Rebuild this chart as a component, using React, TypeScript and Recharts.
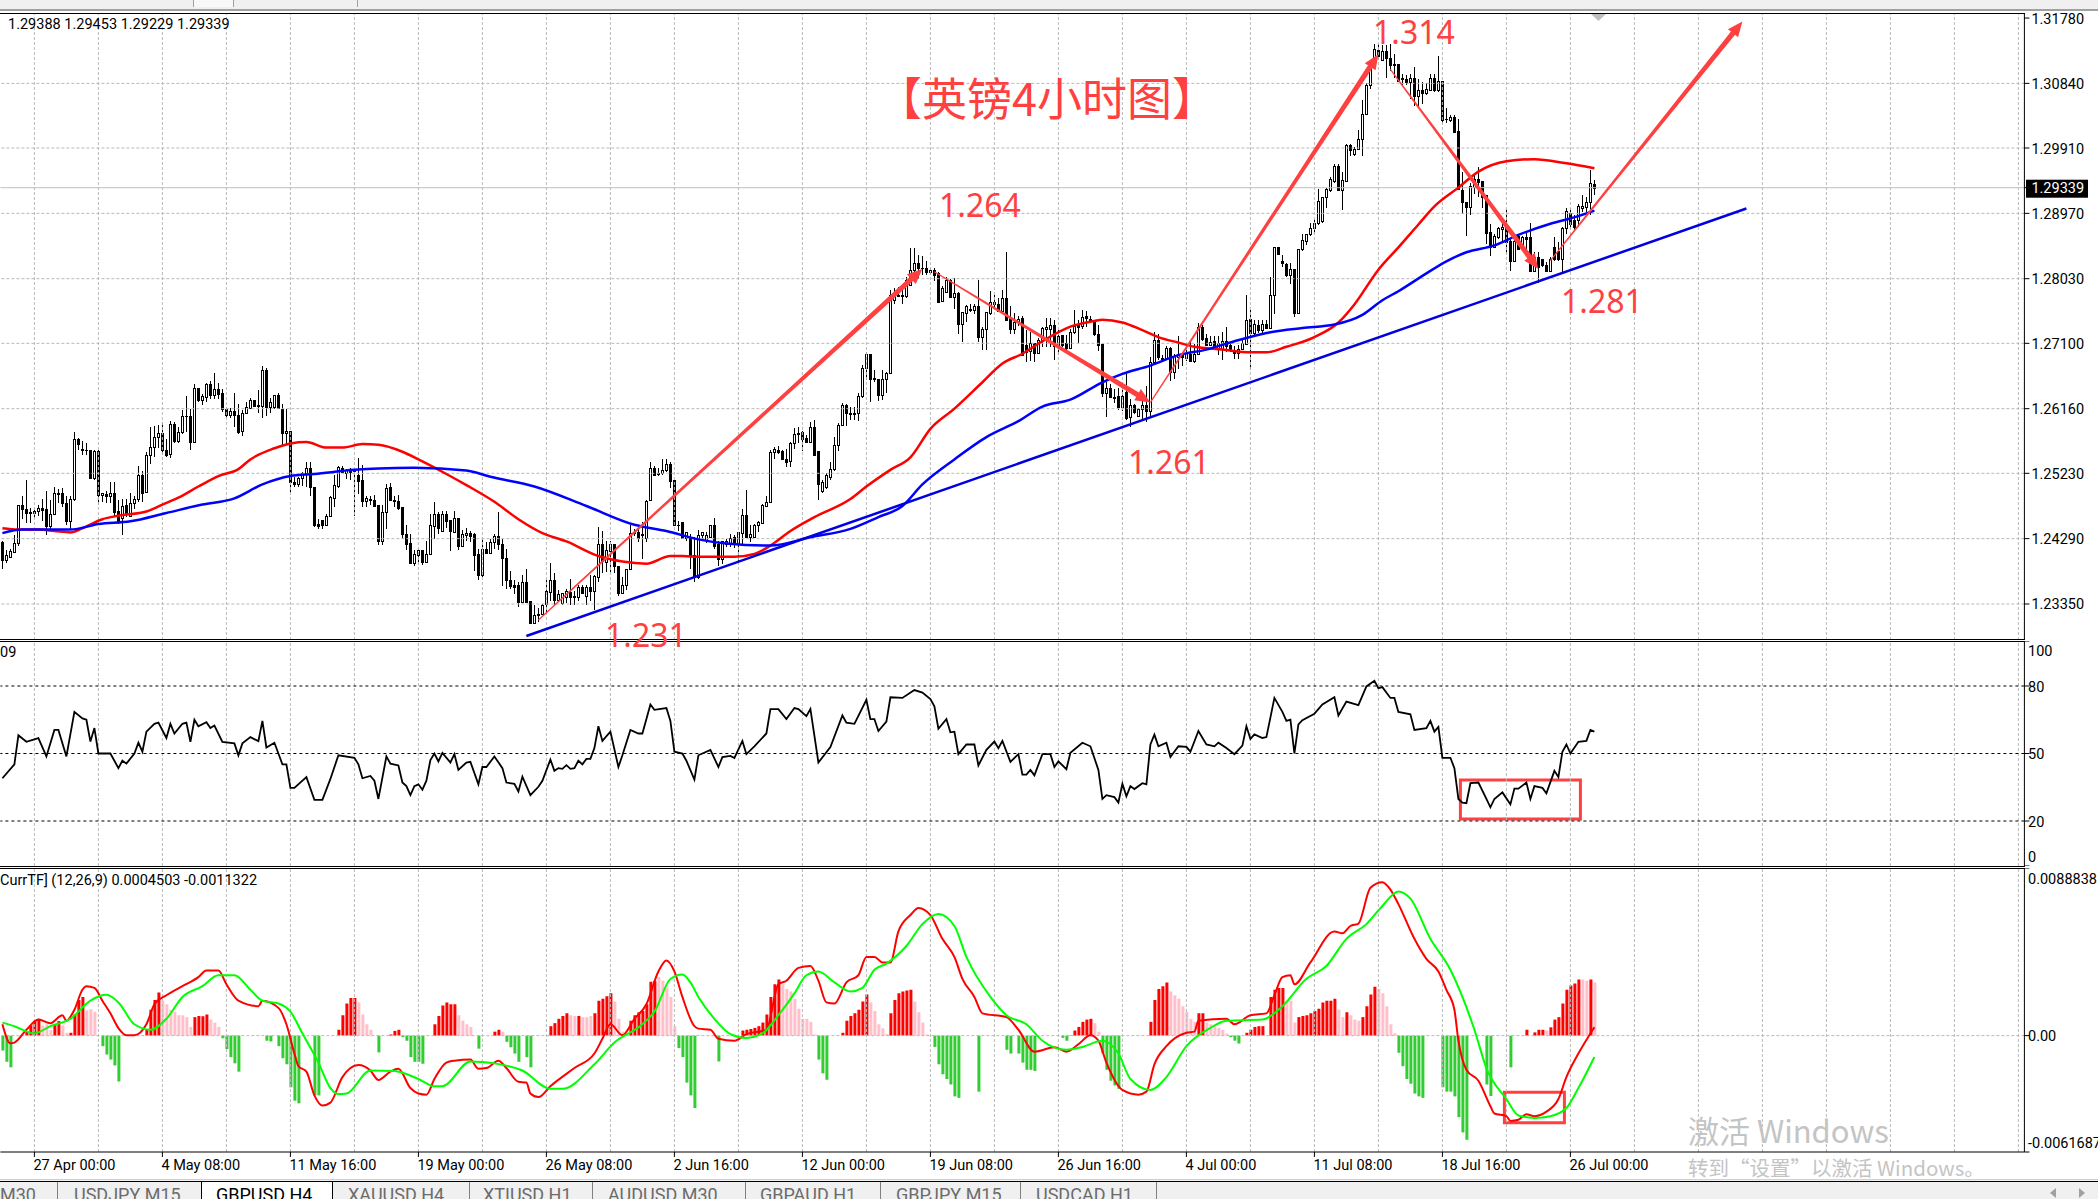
import React from 'react';
import { ComposedChart, Bar, Line, XAxis, YAxis, ReferenceLine, ReferenceArea, Cell } from 'recharts';

type Ohlc = [number, number, number, number];
// candles: [open, close, high, low] in 1/10000 price units, oldest bar first
const candlesApr: Ohlc[] = [
[12424,12398,12426,12386],[12398,12405,12413,12394],[12403,12411,12414,12401],[12410,12423,12434,12410],[12423,12478,12478,12419],[12478,12471,12490,12457],[12472,12466,12514,12452],[12468,12466,12473,12451],[12466,12469,12473,12458],[12469,12473,12477,12461],
[12473,12470,12486,12454],[12471,12447,12498,12434],[12447,12465,12484,12441],[12465,12495,12503,12463],[12495,12493,12500,12480],[12495,12480,12502,12475],[12481,12454,12491,12448],[12454,12486,12491,12443],[12486,12573,12583,12483],[12573,12565,12574,12557],
[12558,12556,12570,12549],[12557,12556,12567,12550],[12557,12516,12557,12516],[12516,12555,12557,12513],[12555,12492,12557,12478],[12492,12495,12495,12482],[12493,12491,12497,12481],[12490,12495,12511,12481],[12495,12468,12511,12461],[12469,12455,12484,12450],
[12458,12476,12486,12434],[12477,12464,12486,12460],[12462,12481,12494,12461],[12480,12486,12490,12472],[12486,12520,12533,12482],[12520,12495,12526,12482],[12496,12550,12554,12495],[12550,12561,12590,12536],[12561,12575,12591,12546],[12575,12581,12592,12560],
];
const candlesMay1: Ohlc[] = [
[12581,12556,12597,12549],[12557,12550,12573,12547],[12551,12594,12598,12545],[12594,12570,12597,12567],[12569,12583,12589,12567],[12582,12606,12614,12580],[12605,12606,12634,12582],[12606,12568,12616,12557],[12568,12646,12651,12567],[12646,12629,12646,12626],
[12629,12634,12637,12622],[12633,12651,12653,12626],[12651,12635,12656,12630],[12635,12645,12668,12630],[12645,12637,12653,12630],[12638,12616,12645,12611],[12615,12607,12619,12603],[12607,12612,12617,12603],[12612,12607,12638,12589],[12607,12583,12623,12580],
[12584,12610,12614,12577],[12610,12618,12626,12609],[12617,12628,12631,12616],[12628,12620,12628,12619],[12621,12620,12643,12610],[12620,12672,12678,12602],[12672,12618,12674,12605],[12618,12625,12632,12610],[12618,12636,12636,12616],[12636,12617,12639,12616],
[12616,12581,12623,12564],[12581,12584,12616,12564],[12584,12510,12584,12494],[12511,12507,12517,12503],[12507,12516,12517,12503],[12516,12523,12525,12505],[12523,12531,12540,12504],[12531,12503,12540,12490],[12504,12449,12504,12446],[12450,12447,12457,12443],
];
const candlesMay2: Ohlc[] = [
[12456,12448,12456,12443],[12448,12462,12465,12448],[12461,12489,12490,12460],[12488,12506,12520,12474],[12505,12532,12533,12502],[12531,12525,12534,12523],[12524,12528,12529,12515],[12528,12525,12531,12513],[12528,12527,12529,12462],[12521,12512,12545,12493],
[12513,12483,12535,12475],[12483,12488,12490,12475],[12486,12485,12490,12477],[12485,12476,12492,12476],[12477,12425,12477,12420],[12425,12467,12477,12420],[12467,12502,12507,12443],[12504,12484,12509,12483],[12485,12483,12490,12475],[12483,12473,12492,12470],
[12474,12436,12475,12429],[12436,12422,12448,12412],[12423,12394,12436,12392],[12394,12407,12412,12389],[12406,12412,12415,12393],[12412,12395,12413,12391],[12395,12407,12426,12394],[12407,12448,12465,12406],[12447,12465,12482,12429],[12465,12444,12467,12436],
[12440,12465,12469,12440],[12465,12455,12469,12444],[12456,12440,12456,12411],[12439,12459,12469,12438],[12459,12418,12459,12412],[12418,12436,12442,12418],[12434,12437,12444,12426],[12437,12433,12440,12424],[12435,12406,12437,12383],[12407,12377,12414,12370],
];
const candlesMay3: Ohlc[] = [
[12377,12414,12429,12374],[12414,12409,12424,12408],[12409,12424,12429,12408],[12424,12433,12436,12414],[12433,12421,12468,12413],[12421,12401,12429,12361],[12401,12369,12414,12356],[12370,12361,12383,12356],[12363,12360,12370,12349],[12363,12338,12366,12330],
[12338,12367,12376,12337],[12367,12338,12385,12337],[12340,12307,12340,12306],[12307,12319,12333,12306],[12321,12319,12329,12309],[12321,12334,12335,12320],[12335,12353,12369,12321],[12352,12370,12394,12340],[12370,12341,12380,12333],[12341,12350,12355,12339],
[12337,12351,12351,12334],[12345,12354,12357,12336],[12352,12345,12371,12334],[12346,12345,12354,12333],[12345,12359,12362,12340],[12359,12351,12362,12349],[12347,12360,12362,12334],[12360,12354,12376,12340],[12354,12375,12376,12326],[12374,12422,12446,12366],
[12422,12397,12440,12379],[12395,12412,12426,12381],[12411,12421,12425,12380],[12421,12390,12422,12380],[12390,12351,12390,12346],[12351,12363,12374,12350],[12363,12386,12386,12355],[12386,12437,12448,12386],[12437,12438,12443,12433],[12438,12430,12443,12424],
];
const candlesJun1: Ohlc[] = [
[12435,12434,12453,12400],[12430,12483,12485,12424],[12484,12531,12539,12483],[12531,12520,12534,12519],[12523,12522,12530,12519],[12523,12528,12543,12520],[12528,12536,12543,12525],[12536,12512,12539,12502],[12513,12448,12513,12447],[12449,12448,12454,12440],
[12453,12430,12453,12429],[12430,12438,12438,12425],[12431,12405,12436,12386],[12406,12374,12431,12366],[12374,12434,12441,12371],[12434,12438,12439,12426],[12427,12434,12438,12423],[12432,12449,12449,12431],[12449,12418,12459,12414],[12421,12400,12426,12389],
[12400,12426,12426,12393],[12422,12426,12429,12417],[12422,12430,12436,12417],[12431,12422,12434,12416],[12422,12438,12438,12394],[12437,12463,12472,12422],[12463,12431,12499,12430],[12432,12436,12448,12424],[12432,12449,12450,12431],[12448,12453,12455,12438],
[12451,12477,12479,12450],[12476,12482,12491,12474],[12482,12554,12557,12482],[12553,12558,12561,12544],[12557,12554,12562,12551],[12555,12543,12556,12542],[12544,12540,12558,12532],[12541,12567,12568,12532],[12567,12580,12588,12558],[12581,12579,12590,12566],
];
const candlesJun2: Ohlc[] = [
[12583,12573,12584,12555],[12574,12568,12578,12566],[12568,12590,12597,12566],[12590,12549,12599,12549],[12555,12508,12555,12485],[12497,12511,12513,12494],[12503,12520,12523,12501],[12517,12529,12540,12514],[12529,12564,12575,12526],[12564,12593,12596,12555],
[12592,12622,12624,12592],[12622,12610,12623,12591],[12610,12608,12619,12599],[12608,12610,12619,12600],[12610,12634,12638,12598],[12634,12674,12679,12631],[12674,12694,12698,12657],[12694,12659,12694,12626],[12660,12659,12671,12654],[12658,12635,12658,12627],
[12636,12659,12672,12628],[12659,12667,12669,12638],[12667,12779,12787,12667],[12773,12779,12789,12766],[12778,12780,12791,12776],[12780,12778,12789,12766],[12778,12801,12806,12775],[12794,12815,12847,12794],[12815,12826,12847,12801],[12826,12818,12837,12803],
[12819,12818,12836,12808],[12819,12812,12829,12808],[12812,12816,12818,12808],[12816,12808,12819,12799],[12811,12770,12813,12768],[12771,12789,12792,12771],[12784,12801,12806,12782],[12801,12777,12803,12775],[12777,12782,12804,12760],[12782,12738,12784,12724],
];
const candlesJun3: Ohlc[] = [
[12738,12755,12755,12712],[12754,12764,12765,12740],[12758,12760,12766,12755],[12758,12764,12766,12752],[12764,12719,12801,12712],[12719,12730,12734,12700],[12730,12755,12755,12700],[12754,12769,12785,12751],[12767,12769,12779,12760],[12767,12756,12775,12755],
[12756,12775,12787,12753],[12775,12744,12841,12743],[12747,12730,12763,12724],[12730,12741,12753,12724],[12741,12745,12750,12735],[12746,12693,12749,12692],[12707,12698,12729,12683],[12699,12710,12727,12685],[12710,12696,12710,12683],[12696,12715,12717,12695],
[12715,12732,12734,12705],[12731,12733,12747,12705],[12731,12736,12747,12705],[12736,12706,12744,12686],[12705,12721,12729,12693],[12722,12707,12722,12705],[12710,12703,12722,12700],[12704,12727,12731,12704],[12727,12735,12758,12724],[12736,12734,12743,12710],
[12735,12748,12758,12731],[12749,12747,12757,12733],[12745,12742,12750,12741],[12744,12723,12744,12721],[12724,12708,12737,12699],[12709,12638,12709,12633],[12638,12646,12654,12604],[12646,12633,12652,12632],[12633,12631,12645,12624],[12634,12618,12646,12614],
];
const candlesJul1: Ohlc[] = [
[12618,12634,12647,12613],[12640,12603,12666,12599],[12604,12622,12630,12590],[12622,12611,12623,12609],[12606,12616,12617,12605],[12616,12622,12628,12601],[12622,12612,12649,12597],[12612,12683,12690,12604],[12683,12715,12726,12682],[12715,12691,12723,12686],
[12689,12688,12693,12685],[12688,12704,12706,12686],[12704,12669,12705,12656],[12669,12692,12695,12659],[12691,12695,12721,12673],[12694,12691,12697,12678],[12689,12695,12706,12685],[12695,12684,12712,12683],[12684,12695,12709,12682],[12695,12733,12739,12694],
[12734,12716,12737,12713],[12717,12707,12723,12706],[12708,12712,12721,12706],[12713,12702,12721,12700],[12702,12711,12721,12693],[12702,12713,12726,12686],[12713,12706,12733,12697],[12707,12701,12709,12697],[12699,12696,12706,12688],[12696,12702,12707,12688],
[12702,12710,12717,12700],[12709,12744,12780,12708],[12745,12725,12758,12671],[12725,12738,12743,12721],[12736,12729,12743,12725],[12729,12738,12744,12724],[12738,12732,12744,12731],[12732,12779,12806,12731],[12779,12848,12848,12752],[12848,12838,12848,12837],
];
const candlesJul2: Ohlc[] = [
[12829,12825,12837,12820],[12824,12808,12825,12806],[12808,12817,12825,12796],[12817,12753,12817,12748],[12753,12845,12845,12752],[12845,12859,12867,12843],[12857,12868,12868,12852],[12868,12876,12883,12865],[12876,12883,12889,12867],[12883,12915,12932,12880],
[12886,12921,12921,12883],[12920,12932,12933,12904],[12930,12947,12950,12927],[12944,12965,12968,12941],[12965,12930,12968,12930],[12930,12945,12956,12902],[12944,12995,12997,12944],[12995,12988,12997,12979],[12982,12990,12992,12980],[12990,13004,13017,12989],
[13004,13040,13060,12980],[13040,13082,13084,13039],[13082,13113,13115,13076],[13113,13133,13140,13112],[13132,13124,13140,13117],[13118,13130,13139,13117],[13130,13120,13139,13092],[13120,13111,13140,13102],[13112,13111,13126,13092],[13112,13088,13112,13086],
[13092,13090,13098,13081],[13091,13086,13096,13081],[13086,13092,13098,13062],[13092,13066,13107,13051],[13066,13074,13091,13048],[13074,13070,13086,13055],[13070,13076,13084,13067],[13075,13092,13098,13074],[13092,13075,13098,13072],[13075,13088,13124,13072],
];
const candlesJul3: Ohlc[] = [
[13088,13032,13088,13026],[13033,13033,13048,13027],[13031,13035,13038,13028],[13036,13014,13038,13013],[13015,12932,13033,12930],[12931,12913,12956,12896],[12914,12906,12914,12865],[12906,12937,12940,12894],[12935,12947,12954,12925],[12946,12942,12964,12920],
[12943,12921,12944,12904],[12923,12869,12923,12853],[12870,12849,12882,12836],[12849,12865,12868,12847],[12863,12876,12877,12860],[12875,12878,12884,12856],[12878,12856,12903,12839],[12857,12828,12860,12814],[12828,12857,12860,12827],[12864,12846,12865,12845],
[12846,12863,12865,12844],[12863,12860,12870,12840],[12863,12814,12883,12812],[12814,12834,12841,12812],[12834,12820,12841,12797],[12831,12823,12831,12820],[12823,12814,12827,12812],[12814,12832,12834,12812],[12848,12832,12863,12829],[12843,12832,12856,12829],
[12832,12876,12878,12812],[12876,12901,12904,12868],[12898,12882,12904,12875],[12887,12878,12894,12872],[12887,12908,12911,12877],[12904,12908,12923,12899],[12906,12913,12920,12899],[12913,12940,12959,12894],[12938.8,12933.9,12945.3,12922.9],
];

type Pt = [number, number];
// moving averages: [bar index, price in 1/10000]
const redMA: Pt[] = [[0,12444],[4,12442],[9,12442],[13,12440],[17,12438],[20,12444],[25,12457],[29,12462],[36,12468],[40,12478],[44,12488],[49,12504],[54,12519],[59,12529],[62,12543],[68,12559],[72,12566],[76,12568],[81,12560],[85,12560],[90,12565],[94,12564],[100,12554],[104,12543],[111,12522],[116,12506],[123,12482],[129,12457],[135,12437],[141,12425],[149,12404],[155,12396],[161,12393],[167,12404],[170,12404],[174,12403],[183,12403],[188,12407],[192,12419],[197,12440],[203,12460],[212,12486],[216,12504],[222,12528],[227,12546],[232,12587],[238,12616],[245,12654],[250,12681],[255,12695],[260,12713],[267,12734],[273,12742],[275,12744],[280,12740],[285,12729],[289,12719],[294,12711],[298,12705],[305,12701],[312,12697],[316,12697],[321,12705],[328,12719],[334,12740],[338,12766],[344,12816],[349,12848],[354,12881],[358,12907],[364,12934],[369,12957],[376,12972],[383,12975],[391,12969],[398,12962]];
const blueMA: Pt[] = [[0,12437],[5,12442],[17,12442],[24,12450],[32,12454],[41,12466],[50,12478],[58,12487],[65,12507],[72,12519],[78,12522],[88,12528],[94,12530],[103,12531],[116,12527],[122,12518],[133,12504],[146,12476],[158,12449],[166,12440],[174,12428],[181,12422],[192,12419],[202,12431],[212,12443],[219,12460],[225,12476],[230,12507],[238,12543],[246,12575],[254,12598],[260,12619],[267,12629],[275,12654],[280,12666],[287,12678],[294,12693],[301,12701],[308,12713],[317,12726],[325,12732],[333,12737],[340,12751],[345,12772],[349,12785],[355,12807],[361,12828],[366,12841],[373,12851],[379,12866],[387,12882],[394,12893],[398,12901]];
// RSI vertices: [bar index, value]
const rsiA: Pt[] = [[0,39],[3,45.2],[4,58.1],[6,55.2],[9,56.8],[11,48.7],[13,60.5],[14,60.5],[16,48.7],[18,68.5],[20,65.6],[21,65],[22,55.3],[23,61.3],[24,50],[27,50],[29,43.5],[30,46.8],[31,45.5],[33,50],[34,54.8],[35,50.8],[36,59.7],[38,63.2],[39,63.7],[41,56.9],[42,63.2],[43,58.9],[45,63.2],[46,63.7],[47,55.2],[48,65],[49,62.1],[51,63.9],[52,61.3],[53,62.4],[55,55.2],[58,54.5],[59,49.2],[60,54.5],[62,57.3],[64,55.5],[65,64.5],[66,52.7],[68,54.8],[69,50],[70,45.2],[71,45.2],[72,34.7],[73,34.7],[76,39.5],[78,29.4],[80,29.4],[82,38.7],[84,49.2],[88,48.1],[89,45.2],[90,39],[92,40],[93,37.9],[94,29.8],[96,48.7],[97,45.5],[99,44.7],[100,37.1],[101,35.5],[102,31.5],[103,35.5],[104,36.3],[105,33.9],[106,37.9],[107,47.1],[108,50],[109,46.5],[110,50.3],[112,46],[113,49.7],[114,42.7],[116,46],[117,46.3],[119,36.3],[120,44],[121,44],[123,48.7],[125,43.5],[126,37.1],[128,36.5],[129,33.1],[130,39.7],[132,31.5],[134,35.2],[135,37.9],[137,47.3],[138,42.3],[139,43.5],[140,43.2],[141,44.8],[142,43.2],[143,43.5],[144,46.8],[145,45.2],[146,47.6],[147,47.6],[148,52.4],[149,62.1],[150,55.6],[152,59.7],[154,44],[155,49.2],[157,60.5],[159,58.9],[160,58.9],[162,71.8],[163,69.4],[166,70.2],[167,64.5],[168,50.8],[170,50],[171,46.8],[173,38.4],[174,49.2]];
const rsiB: Pt[] = [[177,51.6],[179,44],[180,48.4],[182,48.9],[183,48],[185,55.6],[186,49.7],[188,53.2],[191,58.9],[192,69.7],[194,69.7],[196,65.3],[198,70.2],[199,69.7],[201,66.6],[202,69.8],[204,46],[207,52.9],[210,66.9],[211,63.7],[213,63.2],[216,73.9],[217,65.3],[218,65.3],[219,60],[221,64.2],[222,75],[225,74.7],[228,78.2],[230,77.1],[232,74.2],[233,71],[234,61],[236,65.3],[237,59.4],[238,59.7],[239,49.7],[241,54],[243,54],[244,44.7],[246,51.6],[248,55.3],[249,52.4],[250,55.6],[252,46.3],[254,49.7],[255,40.6],[256,40.6],[257,42.7],[258,40.3],[260,49.7],[262,49.7],[263,44],[264,46.5],[266,43],[267,50.3],[270,54.8],[272,53.2],[274,42.7],[275,29.8],[276,31.5],[278,30.6],[279,28.2],[280,36.6],[281,31],[282,35.5],[283,34.2],[285,36.8],[286,36.3],[287,54],[288,58.4],[289,53.2],[291,54.8],[292,48.4],[294,53.2],[296,52.9],[297,50.8],[299,60],[301,54],[303,53.2],[304,54.8],[306,52.4],[308,49.7],[310,53.5],[311,62.1],[312,56.5],[313,58.5],[315,56.9],[316,57.3],[318,74.7],[320,68.5],[321,64.5],[322,65],[323,50],[324,62.9],[325,64.8],[328,67.7],[330,71.8],[333,75],[334,66.9],[336,73.1],[339,71.5],[341,79.8],[343,82.3],[344,79],[345,79.5],[347,74.7],[348,74.7]];
const rsiC: Pt[] = [[349,68.5],[352,67.4],[353,60.5],[356,61.3],[357,64.5],[358,59.7],[359,61.8],[360,48.1],[362,48.1],[363,43.5],[364,29.8],[365,28.2],[366,27.9],[367,36.8],[369,37.1],[371,29.8],[372,26.1],[373,29.8],[375,32.7],[377,27.4],[378,34.4],[379,34.4],[381,37.1],[382,29.8],[383,35.5],[385,34.7],[386,32.3],[388,42.3],[389,39.5],[390,50.8],[391,54],[392,50],[394,55.2],[396,55.6],[397,60.5],[398,59.7]];
// MACD and signal: [bar index, value in 1/10000]
const macdLine: Pt[] = [[0,6],[2,-4.1],[3,-3.7],[6,3.1],[9,8.5],[12,6.6],[15,10.8],[16,7.9],[18,13.7],[20,24.3],[21,26.2],[23,25.3],[25,18.5],[27,11.8],[29,4],[31,0.2],[33,0.2],[36,6],[38,16.6],[41,21.4],[45,26.2],[49,31],[51,34.5],[54,34.5],[56,27.2],[59,18.5],[64,15.6],[65,18.5],[69,14.7],[71,6],[73,-9.5],[74,-16.2],[76,-19.1],[78,-31.7],[80,-37.1],[82,-35.5],[85,-22],[89,-15.6],[92,-18.5],[94,-23.5],[97,-19.1],[99,-17.6],[102,-27.8],[104,-30.7],[106,-31.3],[108,-23],[111,-14.3],[113,-13.3],[117,-12.7],[119,-17.6],[121,-17.2],[124,-13.3],[126,-17.2],[129,-24.5],[131,-24.9],[132,-30.7],[134,-32.6],[137,-26.8],[143,-17.2],[148,-9.5],[150,-1.7],[152,6],[155,0.2],[158,8.9],[161,16.6],[164,34],[166,39.8],[168,34],[170,20.5],[173,5],[174,3.7],[177,3.1],[179,-1.7],[183,-2.7],[186,0.8],[191,3.1],[194,27.2],[196,29.1],[199,35.9],[202,36.9],[204,29.1],[206,17.6],[208,17],[211,28.2],[214,32],[216,41.7],[218,41.7],[220,38.8],[222,38.8],[224,55.2],[227,63.9],[229,67.7],[232,63.9],[235,51.3],[238,41.7],[240,30.1],[243,20.5],[245,11.8],[251,9.8],[254,3.1],[258,-8.5],[263,-6.2],[266,-8.5],[269,-4.6],[272,0.2],[274,-2.7],[276,-14.3],[280,-28.8],[284,-31.3],[286,-29.7],[288,-15.2],[291,-5.6],[296,1.5],[298,2.1],[299,7.9],[306,8.9],[308,6],[312,10.8],[316,11.8],[318,21.4],[320,31],[322,32],[323,27.2],[327,38.8],[333,55.2],[335,54.2],[337,58.1],[339,59.4],[342,78.4],[345,81.3],[347,77.4],[349,69.7],[353,51.3],[356,40.7],[359,34],[361,24.3],[363,13.7],[364,-2.7],[366,-18.1],[369,-23.9],[372,-37.4],[373,-41.3],[376,-42.7],[377,-45.2],[379,-44.6],[381,-41.7],[383,-42.7],[386,-40.3],[389,-33.6],[391,-22],[394,-9.5],[398,4.5]];
const signalLine: Pt[] = [[0,6.9],[3,5],[8,1.2],[12,5],[17,8.9],[22,18.5],[26,21.6],[29,17.6],[33,6],[37,3.1],[41,8.9],[45,20.5],[50,26.2],[54,32],[58,32],[62,24.3],[65,18.5],[69,17],[72,12.7],[75,1.2],[79,-14.3],[82,-27.8],[84,-31],[86,-30.7],[92,-18.5],[98,-18.7],[104,-23],[108,-26.8],[110,-26.8],[117,-13.7],[123,-14.7],[130,-18.5],[137,-28.2],[140,-28.2],[148,-15.2],[153,-3.7],[160,6],[163,12.7],[167,30],[170,32.4],[172,28.2],[174,20.5],[178,8.9],[182,0.8],[186,-1.2],[190,1.2],[194,10.8],[198,22.4],[201,32],[204,34],[208,28.2],[212,23.4],[215,25.3],[218,34.9],[221,38.2],[226,47.5],[230,59.1],[234,64.5],[238,58.1],[241,41.7],[247,20.5],[251,10.8],[256,6],[260,-2.7],[266,-7.5],[270,-6],[275,-2.7],[279,-9.5],[282,-23],[287,-28.8],[291,-22],[296,-5.6],[302,4.1],[306,7.9],[315,8.5],[320,15.6],[326,30.1],[331,36.9],[336,51.3],[341,59.1],[345,68.7],[349,76.4],[352,72.6],[357,51.3],[362,34.9],[365,20.5],[368,3.1],[371,-17.2],[376,-33.6],[379,-42.3],[383,-43.6],[387,-42.7],[391,-38.4],[394,-27.8],[398,-11.3]];
// histogram bars by colour: [bar index, value in 1/10000]
const histRed: Pt[] = [[6,2],[7,5.4],[8,7.9],[9,8.9],[13,6],[14,7.7],[17,1.5],[18,11.2],[19,18.9],[20,20.5],[36,3.1],[37,13.7],[38,18.9],[39,22.9],[48,9.8],[49,10.4],[50,10.2],[51,11.2],[84,3.1],[85,10.8],[86,17],[87,20],[88,20],[97,0.6],[98,2.5],[99,3.1],[108,6],[109,10.4],[110,16],[111,17.6],[112,16.6],[113,16.6],[123,2.1],[124,3.1],[137,5],[138,6.6],[139,8.9],[140,10.4],[141,11.8],[144,10.4],[148,11.8],[149,18.5],[150,19.5],[151,20.8],[152,22.4],[157,7.9],[158,10.8],[159,12.4],[160,13.1],[161,16.6],[162,28.6],[163,29.1],[185,2.7],[186,3.1],[187,3.5],[188,4.1],[189,5],[190,6.9],[191,11.2],[192,20.5],[193,27.2],[194,29.7],[210,1.5],[211,7.9],[212,10.4],[213,11.8],[214,13.7],[215,18.1],[216,21.8],[222,11.8],[223,18.9],[224,22.4],[225,23.4],[226,23.9],[227,24.3],[267,0.2],[268,2.7],[269,4.6],[270,7.3],[271,8.5],[272,8.9],[287,7.3],[288,18.9],[289,24.7],[290,26.2],[291,28.2],[299,11.8],[300,11.8],[311,1.5],[312,3.1],[313,4.6],[314,5],[315,5],[317,20.5],[318,24.3],[319,25.3],[320,25.3],[324,9.8],[325,10.4],[326,10.8],[327,11.8],[328,13.1],[329,14.3],[330,17.6],[331,18.5],[332,18.5],[333,19.5],[336,12.4],[340,9.8],[341,15.6],[342,21.8],[343,25.9],[381,3.1],[383,1.7],[384,3.1],[385,3.1],[387,4.4],[388,8.5],[389,9.8],[390,17],[391,24.3],[392,26.6],[393,27.6],[394,29.7],[397,29.7]];
const histPink: Pt[] = [[10,5.4],[11,6],[12,3],[15,5.4],[16,1.5],[21,13.5],[22,14],[23,12.7],[40,18.5],[41,16.6],[42,13.7],[43,12.7],[44,10.8],[45,10.8],[46,9.8],[47,4.6],[52,8.5],[53,6.9],[54,4.6],[89,17.6],[90,11.2],[91,6],[92,3.1],[114,10.8],[115,7.9],[116,6],[117,4.6],[125,2.1],[142,10.8],[143,10.4],[145,9.8],[146,9.8],[147,10.4],[153,18.1],[154,8.9],[155,2.1],[164,31],[165,29.1],[166,25.3],[167,20.5],[168,5],[195,27.2],[196,24.7],[197,23.4],[198,19.5],[199,14.3],[200,8.9],[201,8.9],[202,7.3],[203,0.6],[217,17.6],[218,13.1],[219,6],[220,3.9],[221,0.8],[228,18.1],[229,12.4],[230,6.9],[231,0.6],[273,6.6],[274,2.1],[292,23.4],[293,21.4],[294,19.5],[295,15.6],[296,12.7],[297,8.9],[298,7.3],[301,6.9],[302,6],[303,5],[304,4.1],[305,3.1],[306,1.2],[321,18.5],[322,18.5],[323,6.9],[334,13.7],[335,9.8],[337,10.8],[338,8.5],[339,7.9],[344,24.7],[345,22.4],[346,15.6],[347,6],[348,1.2],[386,2.7],[395,29.7],[396,29.1],[398,28.2]];
const histGreen: Pt[] = [[0,-7.9],[1,-13.9],[2,-16.8],[25,-5.6],[26,-10],[27,-12.7],[28,-15.8],[29,-24.3],[55,-1.4],[56,-7.1],[57,-11.4],[58,-14.7],[59,-19.1],[66,-2.7],[67,-3.1],[69,-5.6],[70,-12],[71,-15.2],[72,-27.4],[73,-34.5],[74,-35.9],[78,-31.7],[79,-31.7],[94,-8.9],[100,-0.8],[101,-2.7],[102,-11.4],[103,-13.9],[104,-13.9],[105,-14.9],[119,-6.9],[126,-3.3],[127,-6.2],[128,-9.5],[129,-13.9],[131,-11.4],[132,-16.8],[169,-6.6],[170,-11.4],[171,-24.9],[172,-31.7],[173,-38.4],[179,-13.7],[204,-12.7],[205,-20],[206,-23.4],[233,-6],[234,-15.2],[235,-20.5],[236,-23],[237,-25.9],[238,-32.2],[239,-33],[244,-29.7],[251,-7.5],[252,-9.5],[254,-9.5],[255,-14.3],[256,-18.1],[257,-18.1],[258,-18.7],[265,-1.2],[266,-2.7],[275,-9.5],[276,-18.1],[277,-23.9],[278,-26.4],[279,-28.2],[307,-0.8],[308,-2.7],[309,-4.2],[349,-9.1],[350,-16.2],[351,-23],[352,-25.5],[353,-30.7],[354,-32.2],[355,-33],[360,-27.4],[361,-29.7],[362,-29.7],[363,-32.2],[364,-43.2],[365,-51.3],[366,-55.2],[371,-25.9],[372,-32],[377,-16.8]];

const priceTicks = [1.3178, 1.3084, 1.2991, 1.2897, 1.2803, 1.271, 1.2616, 1.2523, 1.2429, 1.2335];
const lastPrice = 1.29339;
const rsiTicks = [100, 80, 50, 20, 0];
const macdTop = 0.0088838;
const macdBottom = -0.0061687;
const macdTicks = [macdTop, 0, macdBottom];
const timeLabels: [number, string][] = [[8,'27 Apr 00:00'],[40,'4 May 08:00'],[72,'11 May 16:00'],[104,'19 May 00:00'],[136,'26 May 08:00'],[168,'2 Jun 16:00'],[200,'12 Jun 00:00'],[232,'19 Jun 08:00'],[264,'26 Jun 16:00'],[296,'4 Jul 00:00'],[328,'11 Jul 08:00'],[360,'18 Jul 16:00'],[392,'26 Jul 00:00']];
const gridBars = [8,24,40,56,72,88,104,120,136,152,168,184,200,216,232,248,264,280,296,312,328,344,360,376,392,408,424,440,456,472,488,504];
// annotation lines: [start bar, start price, end bar, end price]
const supportLine = [131, 1.2289, 436, 1.2904];
const arrows: number[][] = [
  [134, 1.2312, 230, 1.2817],
  [233, 1.2813, 287, 1.2625],
  [287, 1.2625, 344, 1.3126],
  [347, 1.3104, 384, 1.2817],
  [387, 1.2829, 435, 1.3173],
];
const annotations: [string, number, number][] = [['1.231', 605, 635], ['1.264', 939, 205], ['1.261', 1128, 462], ['1.314', 1373, 32], ['1.281', 1561, 301]];
const title = '【英镑4小时图】';
const tabs: [string, number][] = [['M30', 0], ['USDJPY M15', 74], ['GBPUSD H4', 216], ['XAUUSD H4', 348], ['XTIUSD H1', 483], ['AUDUSD M30', 608], ['GBPAUD H1', 760], ['GBPJPY M15', 896], ['USDCAD H1', 1036]];
const tabSeparators = [57, 469, 592, 745, 880, 1020, 1156];

const TOTAL_BARS = 506;
const candles = [...candlesApr, ...candlesMay1, ...candlesMay2, ...candlesMay3, ...candlesJun1, ...candlesJun2, ...candlesJun3, ...candlesJul1, ...candlesJul2, ...candlesJul3];
const lookup = (pts: Pt[], scale: number) => new Map(pts.map(([k, v]) => [k, v * scale]));
const mapRed = lookup(redMA, 1e-4), mapBlue = lookup(blueMA, 1e-4);
const mapRsi = lookup([...rsiA, ...rsiB, ...rsiC], 1);
const mapMacd = lookup(macdLine, 1e-4), mapSignal = lookup(signalLine, 1e-4);
const mapHR = lookup(histRed, 1e-4), mapHP = lookup(histPink, 1e-4), mapHG = lookup(histGreen, 1e-4);

const rows = Array.from({ length: TOTAL_BARS }, (_, k) => {
  const c = candles[k];
  const hist = mapHR.get(k) ?? mapHP.get(k) ?? mapHG.get(k);
  return {
    k,
    range: c ? [c[3] / 1e4, c[2] / 1e4] : undefined,
    open: c ? c[0] / 1e4 : undefined,
    close: c ? c[1] / 1e4 : undefined,
    high: c ? c[2] / 1e4 : undefined,
    low: c ? c[3] / 1e4 : undefined,
    maRed: mapRed.get(k),
    maBlue: mapBlue.get(k),
    rsi: mapRsi.get(k),
    macd: mapMacd.get(k),
    signal: mapSignal.get(k),
    hist,
    histFill: mapHR.has(k) ? '#ff0000' : mapHP.has(k) ? '#ffc0cb' : '#32cd32',
  };
});

const FONT = 'Roboto, "Noto Sans", sans-serif';
const ANNOT = '#ff4040';
const GRID = '#b9b9b9';
const margin = { top: 0, right: 0, bottom: 0, left: 0.4 };
const AXIS_W = 73.6;
const SMALL = 14.5;

const Candle = (p: any) => {
  const { x, y, width, height, payload } = p;
  if (!payload || payload.high == null) return null;
  const span = payload.high - payload.low || 1e-9;
  const yOf = (v: number) => y + ((payload.high - v) / span) * height;
  const cx = Math.floor(x + width / 2) + 0.5;
  const bull = payload.close >= payload.open;
  const top = Math.round(yOf(Math.max(payload.open, payload.close))) + 0.5;
  const bottom = Math.round(yOf(Math.min(payload.open, payload.close))) + 0.5;
  return (
    <g>
      <line x1={cx} x2={cx} y1={Math.round(y)} y2={Math.round(y + height)} stroke="#000" strokeWidth={1} />
      <rect x={cx - 1} y={top} width={2} height={Math.max(bottom - top, 0.01)} fill={bull ? '#fff' : '#000'} stroke="#000" strokeWidth={1} />
    </g>
  );
};

const Arrow = (p: any) => {
  const { x1, y1, x2, y2 } = p;
  if (x1 == null) return null;
  const dx = x2 - x1, dy = y2 - y1;
  const len = Math.hypot(dx, dy) || 1;
  const ux = dx / len, uy = dy / len, nx = -uy, ny = ux;
  const hx = x2 - ux * 15, hy = y2 - uy * 15;
  const a = 0.6, b = 2.6, h = 6.5;
  const pts = [
    [x1 + nx * a, y1 + ny * a], [hx + nx * b, hy + ny * b], [hx + nx * h, hy + ny * h], [x2, y2],
    [hx - nx * h, hy - ny * h], [hx - nx * b, hy - ny * b], [x1 - nx * a, y1 - ny * a],
  ].map((q) => q.join(',')).join(' ');
  return <polygon points={pts} fill={ANNOT} />;
};

const PriceTick = (p: any) => {
  const { x, y, payload } = p;
  const v = payload.value as number;
  const isLast = v === lastPrice;
  return (
    <g>
      {isLast && <rect x={x - 5.4} y={y - 8} width={62} height={18} fill="#000" />}
      <text x={x} y={y + 1} dominantBaseline="central" fontFamily={FONT} fontSize={SMALL} fill={isLast ? '#fff' : '#000'}>{v.toFixed(5)}</text>
    </g>
  );
};

const RsiTick = (p: any) => {
  const { x, y, payload } = p;
  const v = payload.value as number;
  const dy = v === 100 ? 10 : v === 0 ? -9 : 1;
  return <text x={x - 3.4} y={y + dy} dominantBaseline="central" fontFamily={FONT} fontSize={SMALL} fill="#000">{v}</text>;
};

const MacdTick = (p: any) => {
  const { x, y, payload } = p;
  const v = payload.value as number;
  const dy = v > 0 ? 11 : v < 0 ? -9 : 1;
  const label = v === 0 ? '0.00' : v.toFixed(7);
  return <text x={x - 3.4} y={y + dy} dominantBaseline="central" fontFamily={FONT} fontSize={SMALL} fill="#000">{label}</text>;
};

const TimeTick = (p: any) => {
  const { x, y, payload } = p;
  const found = timeLabels.find((t) => t[0] === payload.value);
  return <text x={x - 1} y={y + 6} dominantBaseline="central" fontFamily={FONT} fontSize={SMALL} fill="#000">{found ? found[1] : ''}</text>;
};

const vGrid = gridBars.map((k) => (
  <ReferenceLine key={'v' + k} x={k} stroke={GRID} strokeDasharray="3 2" />
));

const Div = ({ s, children }: { s: React.CSSProperties; children?: React.ReactNode }) => (
  <div style={{ position: 'absolute', ...s }}>{children}</div>
);

const PriceChart = () => (
  <ComposedChart width={2098} height={636} data={rows} margin={{ ...margin, top: 10 }} barCategoryGap={0}>
    <XAxis dataKey="k" type="category" scale="band" hide />
    <YAxis orientation="right" type="number" width={AXIS_W} domain={[1.22832, 1.31838]} allowDataOverflow ticks={[...priceTicks, lastPrice]} interval={0} tickSize={5} tick={PriceTick} axisLine={{ stroke: '#000' }} tickLine={{ stroke: '#000' }} />
    {vGrid}
    {priceTicks.slice(1).map((v) => (
      <ReferenceLine key={'h' + v} y={v} stroke={GRID} strokeDasharray="3 2" />
    ))}
    <ReferenceLine y={lastPrice} stroke="#c0c0c0" />
    <Bar dataKey="range" barSize={3} shape={Candle} isAnimationActive={false} />
    <Line type="monotone" dataKey="maRed" stroke="#ff0000" strokeWidth={2.5} dot={false} connectNulls isAnimationActive={false} />
    <Line type="monotone" dataKey="maBlue" stroke="#0000ff" strokeWidth={2.5} dot={false} connectNulls isAnimationActive={false} />
    <ReferenceLine isFront segment={[{ x: supportLine[0], y: supportLine[1] }, { x: supportLine[2], y: supportLine[3] }]} stroke="#0000e0" strokeWidth={2.5} />
    {arrows.map((a, i) => (
      <ReferenceLine key={'a' + i} isFront segment={[{ x: a[0], y: a[1] }, { x: a[2], y: a[3] }]} shape={Arrow} />
    ))}
  </ComposedChart>
);

const RsiChart = () => (
  <ComposedChart width={2098} height={225} data={rows} margin={margin}>
    <XAxis dataKey="k" type="category" scale="band" hide />
    <YAxis orientation="right" type="number" width={AXIS_W} domain={[0, 100]} allowDataOverflow ticks={rsiTicks} interval={0} tickSize={5} tick={RsiTick} axisLine={{ stroke: '#000' }} tickLine={{ stroke: '#000' }} />
    {vGrid}
    {[80, 50, 20].map((v) => (
      <ReferenceLine key={'l' + v} y={v} stroke="#000" strokeDasharray="3 3" />
    ))}
    <Line dataKey="rsi" stroke="#000" strokeWidth={1.8} dot={false} connectNulls isAnimationActive={false} />
    <ReferenceArea x1={365} x2={394} y1={20.9} y2={38.2} fill="none" stroke={ANNOT} strokeWidth={3} fillOpacity={0} isFront />
  </ComposedChart>
);

const MacdChart = () => (
  <ComposedChart width={2098} height={312} data={rows} margin={margin} barCategoryGap={0}>
    <XAxis dataKey="k" type="category" scale="band" height={28} ticks={timeLabels.map((t) => t[0])} interval={0} tickSize={5} tick={TimeTick} axisLine={{ stroke: '#000' }} tickLine={{ stroke: '#000' }} />
    <YAxis orientation="right" type="number" width={AXIS_W} domain={[macdBottom, macdTop]} allowDataOverflow ticks={macdTicks} interval={0} tickSize={5} tick={MacdTick} axisLine={{ stroke: '#000' }} tickLine={{ stroke: '#000' }} />
    {vGrid}
    <ReferenceLine y={0} stroke={GRID} strokeDasharray="3 2" />
    <Bar dataKey="hist" barSize={3} isAnimationActive={false}>
      {rows.map((r) => <Cell key={r.k} fill={r.histFill} />)}
    </Bar>
    <Line type="monotone" dataKey="macd" stroke="#ff0000" strokeWidth={2} dot={false} connectNulls isAnimationActive={false} />
    <Line type="monotone" dataKey="signal" stroke="#00ff00" strokeWidth={2} dot={false} connectNulls isAnimationActive={false} />
    <ReferenceArea x1={376} x2={390} y1={-0.00462} y2={-0.003} fill="none" stroke={ANNOT} strokeWidth={3} fillOpacity={0} isFront />
  </ComposedChart>
);

const smallText: React.CSSProperties = { fontFamily: FONT, fontSize: SMALL, lineHeight: '18px', color: '#000', whiteSpace: 'nowrap' };
const annotText: React.CSSProperties = { fontFamily: '"Noto Sans", sans-serif', fontSize: 32, lineHeight: '40px', color: ANNOT, whiteSpace: 'nowrap' };

export default function App() {
  return (
    <div style={{ position: 'absolute', left: 0, top: 0, width: 2098, height: 1199, overflow: 'hidden', background: '#fff' }}>
      {/* toolbar strip */}
      <Div s={{ left: 0, top: 0, width: 2098, height: 9, background: '#f0f0f0' }} />
      <Div s={{ left: 193, top: 0, width: 39, height: 7, background: '#f8f8f8', borderLeft: '1px solid #a0a0a0', borderRight: '1px solid #a0a0a0' }} />
      <Div s={{ left: 357, top: 0, width: 1, height: 7, background: '#a0a0a0' }} />
      <Div s={{ left: 0, top: 9, width: 2098, height: 2, background: '#a0a0a0' }} />
      {/* panes */}
      <Div s={{ left: 0, top: 4 }}><PriceChart /></Div>
      <Div s={{ left: 0, top: 641 }}><RsiChart /></Div>
      <Div s={{ left: 0, top: 868 }}><MacdChart /></Div>
      {/* pane borders */}
      <Div s={{ left: 0, top: 13, width: 2025, height: 1, background: '#000' }} />
      <Div s={{ left: 0, top: 639, width: 2025, height: 1, background: '#000' }} />
      <Div s={{ left: 0, top: 641, width: 2025, height: 1, background: '#000' }} />
      <Div s={{ left: 0, top: 866, width: 2025, height: 1, background: '#000' }} />
      <Div s={{ left: 0, top: 868, width: 2025, height: 1, background: '#000' }} />
      <Div s={{ left: 1591, top: 14, width: 15, height: 7, background: '#c0c0c0', clipPath: 'polygon(0 0,100% 0,50% 100%)' }} />
      {/* pane captions */}
      <Div s={{ ...smallText, left: 8, top: 16 }}>1.29388 1.29453 1.29229 1.29339</Div>
      <Div s={{ ...smallText, left: 0, top: 644 }}>09</Div>
      <Div s={{ ...smallText, left: 0, top: 872 }}>CurrTF] (12,26,9) 0.0004503 -0.0011322</Div>
      {/* annotations */}
      <Div s={{ fontFamily: '"Noto Sans CJK SC", sans-serif', fontSize: 45, lineHeight: '54px', color: ANNOT, left: 877, top: 70, whiteSpace: 'nowrap' }}>{title}</Div>
      {annotations.map(([t, x, y]) => (
        <Div key={t} s={{ ...annotText, left: x, top: y - 20 }}>{t}</Div>
      ))}
      {/* tab strip */}
      <Div s={{ left: 0, top: 1179, width: 2098, height: 20, background: '#f0f0f0', borderTop: '1px solid #d0d0d0' }} />
      <Div s={{ left: 0, top: 1181, width: 2098, height: 1, background: '#000' }} />
      <Div s={{ left: 201, top: 1181, width: 130, height: 18, background: '#fff', borderLeft: '1px solid #000', borderRight: '1px solid #000', borderTop: '1px solid #000' }} />
      {tabSeparators.map((x) => (
        <Div key={x} s={{ left: x, top: 1182, width: 1, height: 17, background: '#808080' }} />
      ))}
      {tabs.map(([t, x]) => (
        <Div key={t} s={{ fontFamily: FONT, fontSize: 18, lineHeight: '24px', left: x, top: 1183, color: t === 'GBPUSD H4' ? '#000' : '#6b6b6b', whiteSpace: 'nowrap' }}>{t}</Div>
      ))}
      <Div s={{ left: 2050, top: 1188, width: 6, height: 10, background: '#a0a0a0', clipPath: 'polygon(100% 0,100% 100%,0 50%)' }} />
      <Div s={{ left: 2079, top: 1188, width: 6, height: 10, background: '#a0a0a0', clipPath: 'polygon(0 0,0 100%,100% 50%)' }} />
      {/* system watermark */}
      <Div s={{ fontFamily: '"Noto Sans CJK SC", "Noto Sans", sans-serif', fontSize: 31, lineHeight: '36px', color: '#c4c4c4', left: 1688, top: 1112, whiteSpace: 'nowrap' }}>激活 Windows</Div>
      <Div s={{ fontFamily: '"Noto Sans CJK SC", "Noto Sans", sans-serif', fontSize: 20.5, lineHeight: '26px', color: '#c4c4c4', left: 1688, top: 1154, whiteSpace: 'nowrap' }}>转到“设置”以激活 Windows。</Div>
    </div>
  );
}
